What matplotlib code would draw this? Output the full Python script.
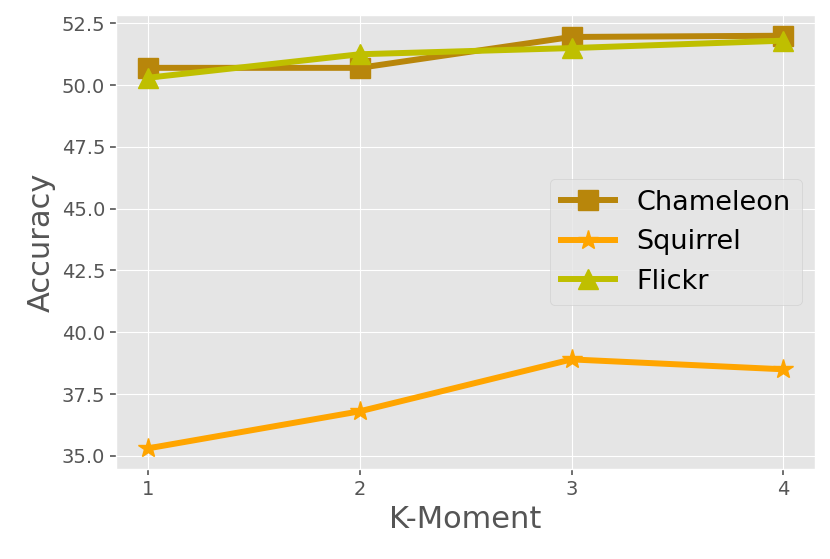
import matplotlib
matplotlib.use("Agg")
import matplotlib.pyplot as plt

plt.style.use("ggplot")

k_moment = [1, 2, 3, 4]
chameleon = [50.7, 50.7, 51.95, 52.0]
squirrel = [35.3, 36.8, 38.9, 38.5]
flickr = [50.3, 51.25, 51.5, 51.8]
xtick_labels = ["1", "2", "3", "4"]

fig = plt.figure(figsize=(8.3, 5.59), dpi=100)
ax = fig.add_axes([0.14, 0.161, 0.842, 0.812])

ax.plot(k_moment, chameleon, color="darkgoldenrod", marker="s", lw=4.3, markersize=15, label="Chameleon")
ax.plot(k_moment, squirrel, color="orange", marker="*", lw=4.3, markersize=15, label="Squirrel")
ax.plot(k_moment, flickr, color="y", marker="^", lw=4.3, markersize=15, label="Flickr")

ax.set_xticks(k_moment)
ax.set_xticklabels(xtick_labels)
ax.tick_params(axis="both", labelsize=14, length=4.5, width=1.2, color="#555555")
ax.set_xlabel("K-Moment", fontsize=22)
ax.set_ylabel("Accuracy", fontsize=22)
ax.legend(fontsize=19.5, loc="center right")

fig.savefig("out.png", dpi=100)
